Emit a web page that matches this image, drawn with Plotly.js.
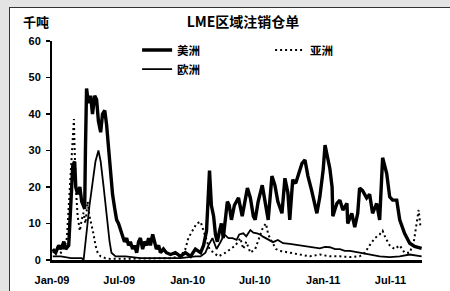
<!DOCTYPE html>
<html>
<head>
<meta charset="utf-8">
<script src="https://cdn.plot.ly/plotly-3.0.1.min.js"></script>
<style>
html,body{margin:0;padding:0;background:#e4e4e4;width:450px;height:291px;overflow:hidden;}
#panel{position:absolute;left:9px;top:7px;width:460px;height:300px;background:#fff;border-left:1px solid #333;border-top:1px solid #333;}
#chart{position:absolute;left:0;top:0;width:450px;height:291px;}
</style>
</head>
<body>
<div id="panel"></div>
<div id="chart"></div>
<script>
// Americas (美洲)
var americasDates = ["2009-01-03","2009-01-11","2009-01-19","2009-01-25","2009-02-02","2009-02-07","2009-02-15","2009-02-21","2009-02-26","2009-03-03","2009-03-06","2009-03-11","2009-03-17","2009-03-22","2009-03-27","2009-03-30","2009-04-01","2009-04-04","2009-04-09","2009-04-15","2009-04-20","2009-04-26","2009-05-01","2009-05-06","2009-05-12","2009-05-17","2009-05-23","2009-05-28","2009-06-02","2009-06-08","2009-06-13","2009-06-19","2009-06-24","2009-06-29","2009-07-05","2009-07-10","2009-07-15","2009-07-21","2009-07-26","2009-07-31","2009-08-06","2009-08-11","2009-08-17","2009-08-22","2009-08-27","2009-09-02","2009-09-07","2009-09-13","2009-09-18","2009-09-23","2009-09-29","2009-10-04","2009-10-09","2009-10-15","2009-10-20","2009-10-28","2009-11-05","2009-11-16","2009-11-29","2009-12-13","2009-12-26","2010-01-09","2010-01-22","2010-02-05","2010-02-13","2010-02-21","2010-02-26","2010-03-01","2010-03-06","2010-03-12","2010-03-17","2010-03-22","2010-03-28","2010-04-02","2010-04-07","2010-04-13","2010-04-18","2010-04-23","2010-04-29","2010-05-07","2010-05-18","2010-05-28","2010-06-05","2010-06-11","2010-06-19","2010-06-27","2010-07-02","2010-07-10","2010-07-21","2010-07-29","2010-08-06","2010-08-16","2010-08-24","2010-09-01","2010-09-12","2010-09-20","2010-09-28","2010-10-03","2010-10-11","2010-10-19","2010-10-25","2010-11-05","2010-11-13","2010-11-21","2010-12-01","2010-12-09","2010-12-15","2010-12-23","2011-01-01","2011-01-06","2011-01-14","2011-01-19","2011-01-25","2011-01-27","2011-02-02","2011-02-07","2011-02-15","2011-02-23","2011-03-06","2011-03-08","2011-03-19","2011-03-27","2011-04-04","2011-04-09","2011-04-17","2011-04-28","2011-05-06","2011-05-14","2011-05-25","2011-06-02","2011-06-10","2011-06-21","2011-06-29","2011-07-07","2011-07-18","2011-07-26","2011-08-08","2011-08-22","2011-09-04","2011-09-23"];
var americasValues = [3,2,4,3,5,3,4,15,26,27,20,18,20,16,15,14,30,47,43,45,40,45,44,38,35,40,41,37,31,24,18,14,11,10,8,7,5,6,4,5,3,4,2,5,6,3,5,4,6,4,7,5,3,4,2,3,2,1.5,2,1,2,1,3,2,4,8,18,24.5,15,12,7,5,8,10,6,12,16,15,11,15,17,12,17,19.7,17,12,11,16,20.5,16,11,23,20.5,16,12.8,22.4,18.4,11,22,21,23,26.5,27.4,23,19,15,12.8,17.3,24.7,31.5,27,25,20,12,14,15.5,16.4,13.7,15.5,10,12.8,9,12.8,19.7,19,17,18,12.8,15.5,11,28,23.7,17.3,16.4,16.4,11,7.3,4.6,3.7,3.2];

// Asia (亚洲)
var asiaDates = ["2009-01-03","2009-01-14","2009-01-25","2009-02-05","2009-02-10","2009-02-15","2009-02-21","2009-02-26","2009-03-01","2009-03-03","2009-03-06","2009-03-11","2009-03-17","2009-03-22","2009-03-27","2009-04-01","2009-04-07","2009-04-12","2009-04-17","2009-04-23","2009-04-28","2009-05-04","2009-05-12","2009-05-25","2009-06-08","2009-07-31","2009-09-23","2009-11-16","2009-12-13","2009-12-26","2010-01-03","2010-01-14","2010-01-25","2010-02-05","2010-02-13","2010-02-21","2010-03-01","2010-03-12","2010-03-25","2010-04-13","2010-04-26","2010-05-10","2010-05-23","2010-05-31","2010-06-08","2010-06-19","2010-07-02","2010-07-15","2010-07-23","2010-07-31","2010-08-06","2010-08-16","2010-08-27","2010-09-07","2010-10-03","2010-10-30","2010-11-26","2010-12-23","2011-01-19","2011-02-15","2011-03-14","2011-04-09","2011-04-23","2011-05-06","2011-05-20","2011-06-02","2011-06-10","2011-06-18","2011-06-29","2011-07-12","2011-07-26","2011-08-08","2011-08-22","2011-09-02","2011-09-10","2011-09-15","2011-09-20"];
var asiaValues = [2,3,2,4,6,15,25,33,38.6,30,20,12,8,11,13,10,16,12,10,7,4,2,1,0.5,0.3,0.3,0.3,0.5,1,3,6,8,10,10.5,8,6,3,2,1,2,3,4,6,3,5,2,3,7,9,10,7,5,3,2.5,2,1.5,1,1.5,1,1,0.8,1,2,4,6,7,8,6,4,3,4,2,2,5,10,13.7,9];

// Europe (欧洲)
var europeDates = ["2009-01-03","2009-01-25","2009-02-21","2009-03-22","2009-03-27","2009-04-04","2009-04-12","2009-04-20","2009-04-28","2009-05-06","2009-05-12","2009-05-20","2009-05-25","2009-05-31","2009-06-05","2009-06-10","2009-06-21","2009-07-18","2009-08-27","2009-10-20","2009-12-13","2010-01-22","2010-02-05","2010-02-18","2010-02-26","2010-03-09","2010-03-20","2010-03-31","2010-04-10","2010-04-21","2010-05-02","2010-05-13","2010-05-20","2010-05-31","2010-06-08","2010-06-19","2010-06-27","2010-07-07","2010-07-15","2010-07-23","2010-08-06","2010-08-19","2010-09-01","2010-09-15","2010-10-03","2010-10-22","2010-11-07","2010-11-26","2010-12-09","2010-12-23","2011-01-06","2011-01-19","2011-02-02","2011-02-15","2011-02-28","2011-03-14","2011-04-09","2011-05-06","2011-06-02","2011-06-29","2011-07-26","2011-08-22","2011-09-23"];
var europeValues = [1,1,0.5,0.5,0,8,15,21,27,30,27,20,15,11,5,2,1,1,0.5,0.5,0.5,1,1,2,4,6,3,5,7,6,6,5.5,7,7.3,6.5,8.2,7.5,7.3,7,6.4,5.5,4.9,5.5,4.6,4.4,4.1,4,3.7,3.4,3.2,3.6,3.5,3,3,2.5,2.5,2,1.5,1,0.8,1,1.5,1];

var yTicks = [0,10,20,30,40,50,60];

var traces = [
  {x: americasDates, y: americasValues, name: "美洲", type: "scatter", mode: "lines",
   line: {color: "#000", width: 3.4}},
  {x: asiaDates, y: asiaValues, name: "亚洲", type: "scatter", mode: "lines",
   line: {color: "#000", width: 2, dash: "2px,3px"}},
  {x: europeDates, y: europeValues, name: "欧洲", type: "scatter", mode: "lines",
   line: {color: "#000", width: 1.8}}
];

var bold = {family: "Liberation Sans, Arial, sans-serif", size: 11, color: "#000", weight: "bold"};
var cjk = "Noto Sans CJK SC, sans-serif";

var layout = {
  width: 450, height: 291,
  margin: {l: 52, r: 28, t: 41, b: 31, pad: 0},
  paper_bgcolor: "rgba(0,0,0,0)",
  plot_bgcolor: "rgba(0,0,0,0)",
  showlegend: true,
  title: {text: "LME区域注销仓单", x: 0.54, xanchor: "center", y: 0.925, yanchor: "middle",
          font: {family: cjk, size: 14, color: "#000", weight: "bold"}},
  xaxis: {
    type: "date",
    range: ["2009-01-01", "2011-09-24"],
    tick0: "2009-01-01", dtick: "M6", tickformat: "%b-%y",
    showgrid: false, zeroline: false,
    showline: true, linecolor: "#000", linewidth: 3,
    ticks: "", ticklabelstandoff: 8,
    tickfont: bold
  },
  yaxis: {
    range: [0, 60], tickvals: yTicks,
    showgrid: false, zeroline: false,
    showline: true, linecolor: "#000", linewidth: 2,
    ticks: "outside", ticklen: 4, tickwidth: 1.5, tickcolor: "#000",
    ticklabelstandoff: 3,
    tickfont: bold
  },
  legend: {
    orientation: "h", x: 0.23, y: 1.025, xanchor: "left", yanchor: "top",
    entrywidth: 88, entrywidthmode: "pixels",
    traceorder: "normal", tracegroupgap: 0,
    font: {family: cjk, size: 11.5, color: "#000", weight: "bold"},
    bgcolor: "rgba(0,0,0,0)", itemwidth: 30
  },
  annotations: [
    {text: "千吨", xref: "paper", yref: "paper", x: -0.043, y: 1.09, xanchor: "center", yanchor: "middle",
     showarrow: false, font: {family: cjk, size: 13, color: "#000", weight: "bold"}}
  ]
};

Plotly.newPlot("chart", traces, layout, {displayModeBar: false, staticPlot: true});
</script>
</body>
</html>
